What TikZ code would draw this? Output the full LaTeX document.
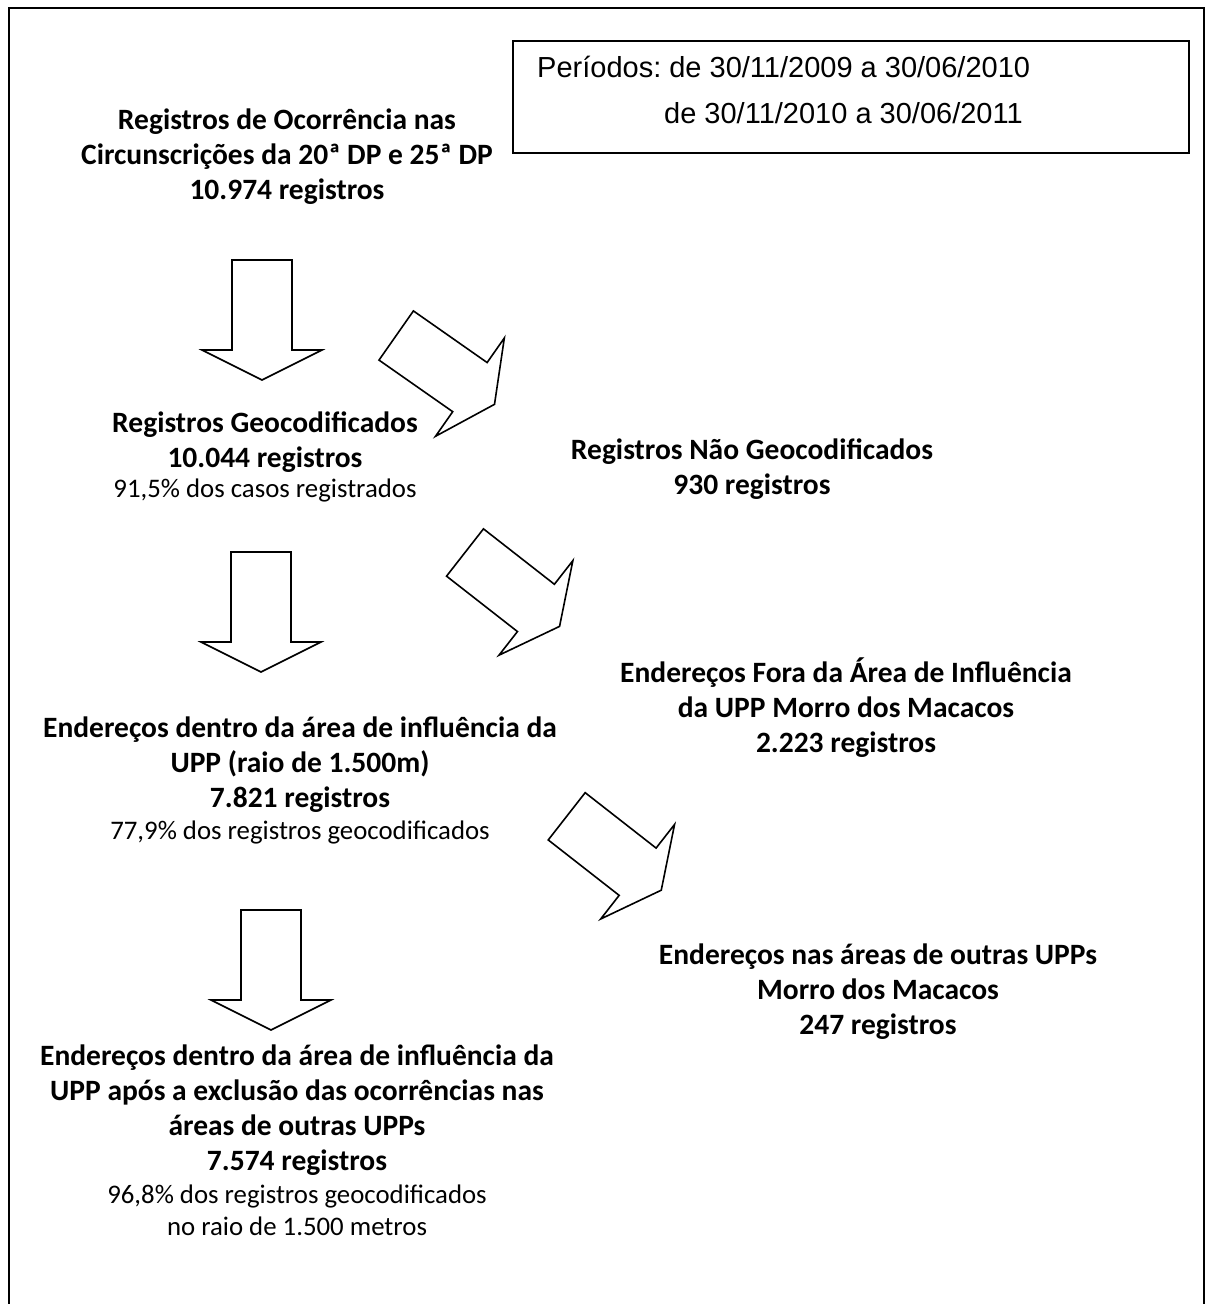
\documentclass[tikz,border=0pt]{standalone}
\usepackage{fontspec}
\setmainfont{Carlito}
\newfontfamily\arialfont{Liberation Sans}
\frenchspacing
\begin{document}
\begin{tikzpicture}[x=1pt,y=-1pt,
  frameline/.style={line width=1.5pt},
  arrowline/.style={draw=black,line width=1.6pt,line join=miter,fill=white},
  blockarrow/.pic={\draw[arrowline] (0,-30) -- (90,-30) -- (90,-60) -- (120,0) -- (90,60) -- (90,30) -- (0,30) -- cycle;},
  boldtext/.style={anchor=north,inner sep=0pt,align=center,font=\fontsize{29.5}{35}\selectfont\bfseries}]
\useasboundingbox (0,0) rectangle (1213,1304);
% outer frame (open at the bottom)
\draw[frameline] (9,1310) -- (9,8) -- (1204,8) -- (1204,1310);
% periods box
\node[draw,line width=1.5pt,anchor=north west,minimum width=676pt,minimum height=112pt,inner sep=0pt] (periods) at (512,40) {};
\node[anchor=north west,inner sep=0pt,align=left,font=\arialfont\fontsize{29}{46}\selectfont] (periodstext) at (537,45.2)
  {\strut Períodos: de 30/11/2009 a 30/06/2010\\\strut\hspace*{127pt}de 30/11/2010 a 30/06/2011};
% text blocks
\node[boldtext] (total) at (287,104.5)
  {\strut Registros de Ocorrência nas\\\strut Circunscrições da 20ª DP e 25ª DP\\\strut 10.974 registros};
\node[boldtext] (geo) at (265,407.5)
  {\strut Registros Geocodificados\\\strut 10.044 registros\\[-4.7pt]
   {\mdseries\fontsize{26.8}{32}\selectfont 91,5\% dos casos registrados}};
\node[boldtext] (naogeo) at (752,434.5)
  {\strut Registros Não Geocodificados\\\strut 930 registros};
\node[boldtext] (fora) at (846,657.5)
  {\strut Endereços Fora da Área de Influência\\\strut da UPP Morro dos Macacos\\\strut 2.223 registros};
\node[boldtext] (dentro) at (300,712.5)
  {\strut Endereços dentro da área de influência da\\\strut UPP (raio de 1.500m)\\\strut 7.821 registros\\[-2.7pt]
   {\mdseries\fontsize{26.8}{32}\selectfont 77,9\% dos registros geocodificados}};
\node[boldtext] (outras) at (878,939.5)
  {\strut Endereços nas áreas de outras UPPs\\\strut Morro dos Macacos\\\strut 247 registros};
\node[boldtext] (final) at (297,1040.5)
  {\strut Endereços dentro da área de influência da\\\strut UPP após a exclusão das ocorrências nas\\\strut áreas de outras UPPs\\\strut 7.574 registros\\[-1.7pt]
   {\mdseries\fontsize{26.8}{32}\selectfont 96,8\% dos registros geocodificados}\\[-3pt]
   {\mdseries\fontsize{26.8}{32}\selectfont no raio de 1.500 metros}};
% block arrows
\pic[rotate=-90] at (262,260) {blockarrow};
\pic[rotate=-90] at (261,552) {blockarrow};
\pic[rotate=-90] at (271,910) {blockarrow};
\pic[rotate=-35] at (396.2,335.5) {blockarrow};
\pic[rotate=-38] at (465,552.5) {blockarrow};
\pic[rotate=-38] at (566.7,816.3) {blockarrow};
\end{tikzpicture}
\end{document}
